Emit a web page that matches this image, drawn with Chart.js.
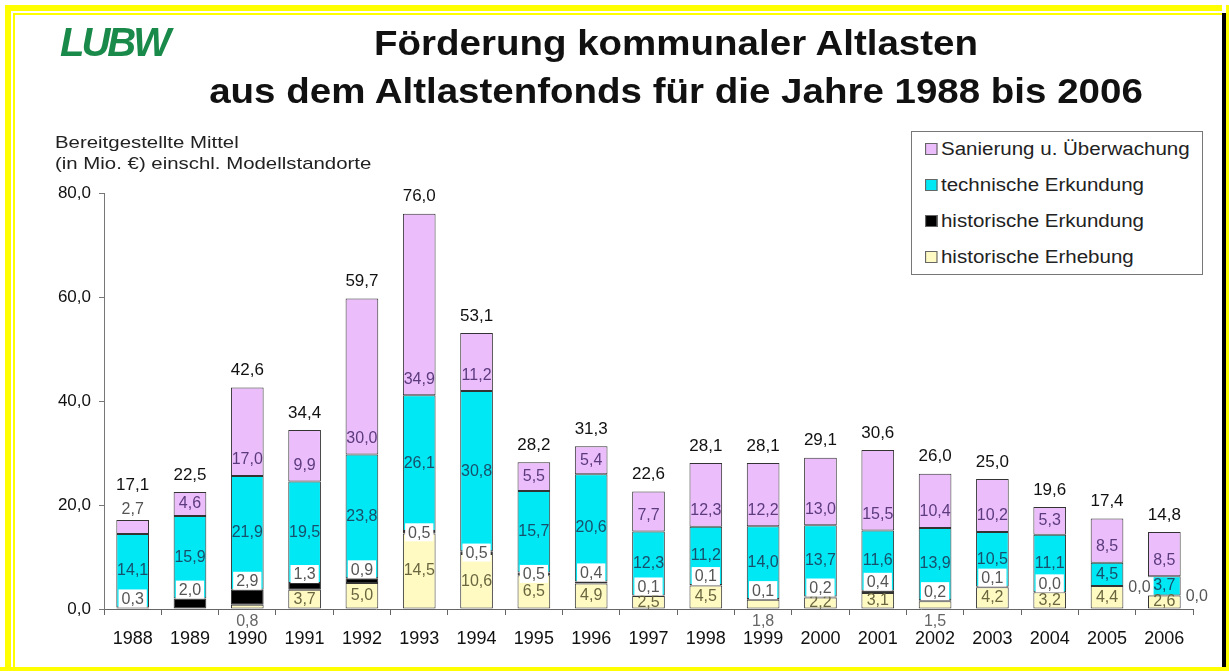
<!DOCTYPE html>
<html lang="de">
<head>
<meta charset="utf-8">
<title>Förderung kommunaler Altlasten</title>
<script src="https://cdn.jsdelivr.net/npm/chart.js@4.4.1/dist/chart.umd.min.js"></script>
<style>
  html, body { margin: 0; padding: 0; background: #fff; }
  #page { position: relative; width: 1229px; height: 671px; overflow: hidden; font-family: 'Liberation Sans', Arial, sans-serif; color: #111; }
  #chart { position: absolute; left: 0; top: 0; }
  .frame { position: absolute; }
  #logo { position: absolute; left: 60px; top: 20px; font: italic bold 40px 'Liberation Sans', Arial, sans-serif; color: #1a8a4a; letter-spacing: -3px; }
  #title { position: absolute; left: 676px; top: 19px; transform: translateX(-50%) scaleX(1.1); text-align: center; white-space: nowrap; font: bold 35px 'Liberation Sans', Arial, sans-serif; line-height: 48px; color: #111; }
  #ytitle { position: absolute; left: 55px; top: 132px; transform: scaleX(1.2); transform-origin: left top; font: 17px 'Liberation Sans', Arial, sans-serif; line-height: 21px; color: #222; white-space: nowrap; }
  #legend { position: absolute; left: 911px; top: 131px; width: 290px; height: 142px; border: 1px solid #777; background: #fff; }
  .item { position: absolute; left: 13px; font: 18px 'Liberation Sans', Arial, sans-serif; color: #222; white-space: nowrap; transform: scaleX(1.14); transform-origin: left center; }
  .item i { display: inline-block; width: 9px; height: 10px; border: 1px solid #666; margin-right: 3px; vertical-align: 0px; }
</style>
</head>
<body>
<div id="page">
  <canvas id="chart" width="1229" height="671"></canvas>
  <div class="frame" style="left:5px;top:5px;width:1217px;height:6px;background:#ffff00"></div>
  <div class="frame" style="left:5px;top:5px;width:6px;height:666px;background:#ffff00"></div>
  <div class="frame" style="left:13px;top:13px;width:1209px;height:2px;background:#ffff00"></div>
  <div class="frame" style="left:13px;top:13px;width:2px;height:658px;background:#ffff00"></div>
  <div class="frame" style="left:1222px;top:13px;width:4px;height:658px;background:#000"></div>
  <div class="frame" style="left:1226px;top:5px;width:3px;height:666px;background:#ffff00"></div>
  <div class="frame" style="left:0;top:667px;width:1229px;height:4px;background:#ffff00"></div>
  <div id="logo">LUBW</div>
  <div id="title">Förderung kommunaler Altlasten<br>aus dem Altlastenfonds für die Jahre 1988 bis 2006</div>
  <div id="ytitle">Bereitgestellte Mittel<br>(in Mio. €) einschl. Modellstandorte</div>
  <div id="legend"></div>
</div>
<script>
// Jahre und Beträge in Mio. €
const years = ['1988', '1989', '1990', '1991', '1992', '1993', '1994', '1995', '1996', '1997',
  '1998', '1999', '2000', '2001', '2002', '2003', '2004', '2005', '2006'];
const histErhebung = [0, 0, 0.8, 3.7, 5.0, 14.5, 10.6, 6.5, 4.9, 2.5, 4.5, 1.8, 2.2, 3.1, 1.5, 4.2, 3.2, 4.4, 2.6];
const histErkundung = [0.3, 2.0, 2.9, 1.3, 0.9, 0.5, 0.5, 0.5, 0.4, 0.1, 0.1, 0.1, 0.2, 0.4, 0.2, 0.1, 0.0, 0.0, 0.0];
const techErkundung = [14.1, 15.9, 21.9, 19.5, 23.8, 26.1, 30.8, 15.7, 20.6, 12.3, 11.2, 14.0, 13.7, 11.6, 13.9, 10.5, 11.1, 4.5, 3.7];
const sanierung = [2.7, 4.6, 17.0, 9.9, 30.0, 34.9, 11.2, 5.5, 5.4, 7.7, 12.3, 12.2, 13.0, 15.5, 10.4, 10.2, 5.3, 8.5, 8.5];
const yTicks = [0, 20, 40, 60, 80];

const FONT = "'Liberation Sans', Arial, sans-serif";
const fmt = v => v.toFixed(1).replace('.', ',');

const series = [
  { label: 'historische Erhebung', data: histErhebung, color: '#fffac2', text: '#6a6640' },
  { label: 'historische Erkundung', data: histErkundung, color: '#000000', text: '#555' },
  { label: 'technische Erkundung', data: techErkundung, color: '#00e8f4', text: '#17506c' },
  { label: 'Sanierung u. Überwachung', data: sanierung, color: '#ecbdfb', text: '#5b3b7e' },
];

// Legende (umgekehrte Reihenfolge)
const legend = document.getElementById('legend');
series.slice().reverse().forEach((s, k) => {
  const d = document.createElement('div');
  d.className = 'item';
  d.style.top = (7 + k * 36) + 'px';
  d.innerHTML = '<i style="background:' + s.color + '"></i>' + s.label;
  legend.appendChild(d);
});

const segLabels = {
  id: 'segLabels',
  afterDatasetsDraw(chart) {
    const ctx = chart.ctx;
    const y0 = chart.scales.y.getPixelForValue(0);
    ctx.save();
    ctx.textAlign = 'center';
    ctx.textBaseline = 'middle';
    years.forEach((yr, i) => {
      const m = series.map((s, d) => chart.getDatasetMeta(d).data[i]);
      const x = m[0].x;
      const half = m[0].width / 2;
      ctx.font = '16px ' + FONT;

      // historische Erhebung
      const e = histErhebung[i];
      if (e > 0) {
        if (e < 2) {
          ctx.fillStyle = '#666';
          ctx.fillText(fmt(e), x, y0 + 13);
        } else {
          ctx.fillStyle = series[0].text;
          ctx.fillText(fmt(e), x, (m[0].y + m[0].base) / 2);
        }
      }

      // technische Erkundung
      ctx.fillStyle = series[2].text;
      ctx.fillText(fmt(techErkundung[i]), x, (m[2].y + m[2].base) / 2);

      // Sanierung
      const s = sanierung[i];
      if (s < 3) {
        ctx.fillStyle = '#555';
        ctx.fillText(fmt(s), x, m[3].y - 10);
      } else {
        ctx.fillStyle = series[3].text;
        const h = m[3].base - m[3].y;
        ctx.fillText(fmt(s), x, m[3].base - Math.min(h / 2, 16));
      }

      // historische Erkundung im weißen Kasten
      const t = fmt(histErkundung[i]);
      const w = ctx.measureText(t).width + 6;
      let hx = x, hy = m[1].y - 9;
      if (e >= 6) hy = (m[1].y + m[1].base) / 2;
      if (techErkundung[i] < 5) { hx = x + half + w / 2 + 2; hy = m[1].y; }
      ctx.fillStyle = '#fff';
      ctx.fillRect(hx - w / 2, hy - 9, w, 18);
      ctx.fillStyle = '#555';
      ctx.fillText(t, hx, hy + 1);

      // Summe
      const total = histErhebung[i] + histErkundung[i] + techErkundung[i] + s;
      ctx.font = '17px ' + FONT;
      ctx.fillStyle = '#111';
      ctx.fillText(fmt(total), x, m[3].y - (s < 3 ? 35 : 17));
    });
    ctx.restore();
  }
};

new Chart(document.getElementById('chart'), {
  type: 'bar',
  data: {
    labels: years,
    datasets: series.map(s => ({
      label: s.label,
      data: s.data,
      backgroundColor: s.color,
      borderColor: '#333',
      borderWidth: 1,
      borderSkipped: false,
      categoryPercentage: 1,
      barPercentage: 0.57,
    })),
  },
  options: {
    responsive: false,
    animation: false,
    layout: { padding: { top: 193, right: 36, left: 0, bottom: 0 } },
    scales: {
      x: {
        stacked: true,
        afterFit: sc => { sc.height = 62; },
        border: { color: '#666', width: 1 },
        grid: { drawOnChartArea: false, drawTicks: true, tickLength: 6, color: '#666', offset: true },
        ticks: { color: '#111', font: { family: FONT, size: 18 }, padding: 13 },
      },
      y: {
        stacked: true,
        min: 0,
        max: 80,
        afterFit: sc => { sc.width = 104; },
        afterBuildTicks: sc => { sc.ticks = yTicks.map(v => ({ value: v })); },
        border: { color: '#777', width: 1 },
        grid: { drawOnChartArea: false, tickLength: 5, color: '#777' },
        ticks: { color: '#111', font: { family: FONT, size: 17 }, padding: 8, callback: v => fmt(v) },
      },
    },
    plugins: {
      legend: { display: false },
      tooltip: { enabled: false },
    },
  },
  plugins: [segLabels],
});
</script>
</body>
</html>
